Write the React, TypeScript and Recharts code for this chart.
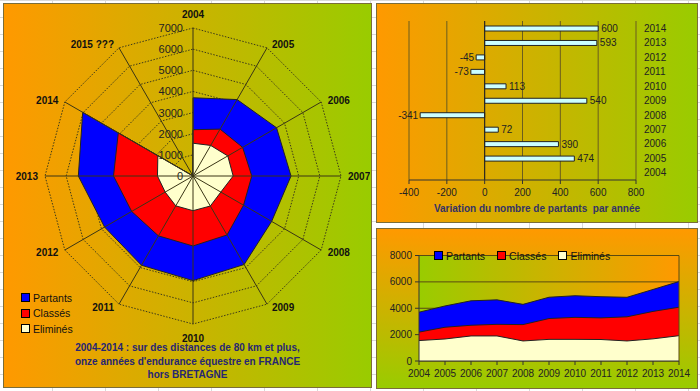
import {
  RadarChart, Radar, PolarGrid, PolarAngleAxis, PolarRadiusAxis, Legend,
  BarChart, Bar, XAxis, YAxis, CartesianGrid, ReferenceLine, LabelList,
  AreaChart, Area,
} from 'recharts'

const years = ['2004', '2005', '2006', '2007', '2008', '2009', '2010', '2011', '2012', '2013', '2014']
const radarYears = [...years, '2015 ???']
const seriesNames = ['Partants', 'Classés', 'Eliminés']
const partants = [3700, 4174, 4564, 4636, 4295, 4835, 4948, 4875, 4830, 5423, 6023]
const classes = [2190, 2560, 2710, 2780, 2760, 3220, 3310, 3270, 3350, 3760, 4080]
const elimines = [1550, 1670, 1900, 1900, 1520, 1640, 1640, 1630, 1520, 1680, 1920]
const variation = [null, 474, 390, 72, -341, 540, 113, -73, -45, 593, 600]
const variationTicks = [-400, -200, 0, 200, 400, 600, 800]
const areaTicks = [0, 2000, 4000, 6000, 8000]

const FONT = '"Liberation Sans", Arial, sans-serif'
const ORANGE = '#ff9900'
const GREEN = '#99cc00'
const BLUE = '#0000ff'
const RED = '#ff0000'
const CREAM = '#ffffcc'

const radarData = radarYears.map((year, i) => ({
  year,
  partants: partants[i] ?? 0,
  classes: classes[i] ?? 0,
  elimines: elimines[i] ?? 0,
}))
const yearData = years.map((year, i) => ({
  year,
  partants: partants[i],
  classes: classes[i],
  elimines: elimines[i],
  variation: variation[i],
}))

// radar geometry (page coordinates)
const CX = 193
const CY = 176
const R = 148

function AngleTick(props: any) {
  const { x, y, payload } = props
  const dx = x - CX
  const dy = y - CY
  const len = Math.hypot(dx, dy) || 1
  const ux = dx / len
  const uy = dy / len
  let px = CX + ux * (R + 4)
  let py = CY + uy * (R + 4)
  let anchor: 'start' | 'end' | 'middle' = 'middle'
  if (ux > 0.2) { anchor = 'start'; px += 3 }
  else if (ux < -0.2) { anchor = 'end'; px -= 3 }
  else py += uy * 10
  return (
    <text x={px} y={py} textAnchor={anchor} dominantBaseline="central"
      fontFamily={FONT} fontSize={10} fontWeight="bold" fill="#111">
      {payload.value}
    </text>
  )
}

function RadiusTick(props: any) {
  const { x, y, payload } = props
  return (
    <text x={x - 10} y={y} textAnchor="end" dominantBaseline="central"
      fontFamily={FONT} fontSize={11} fill="#222">
      {payload.value}
    </text>
  )
}

function SwatchLegend(props: any) {
  const { payload = [], vertical } = props
  const items = [...payload].sort((a: any, b: any) => seriesNames.indexOf(a.value) - seriesNames.indexOf(b.value))
  return (
    <div style={{ display: 'flex', flexDirection: vertical ? 'column' : 'row', gap: vertical ? 2 : 12, fontFamily: FONT, fontSize: 10.5, color: '#111' }}>
      {items.map((entry: any) => (
        <div key={entry.value} style={{ display: 'flex', alignItems: 'center', height: 13.5 }}>
          <span style={{ width: 7, height: 7, border: '1px solid #000', background: entry.payload?.fill ?? entry.color, marginRight: 3 }} />
          {entry.value}
        </div>
      ))}
    </div>
  )
}

function BarValue(props: any) {
  const { x, y, width, height, value } = props
  if (value == null) return null
  const left = Math.min(x, x + width)
  const right = Math.max(x, x + width)
  const neg = value < 0
  return (
    <text x={neg ? left - 2 : right + 3} y={y + height / 2} textAnchor={neg ? 'end' : 'start'}
      dominantBaseline="central" fontFamily={FONT} fontSize={10} fill="#222">
      {value}
    </text>
  )
}

export default function App() {
  return (
    <div style={{
      position: 'absolute', left: 0, top: 0, width: 700, height: 391, overflow: 'hidden', fontFamily: FONT,
      background: 'repeating-linear-gradient(90deg, transparent 0 52px, #d9d9d9 52px 53px), repeating-linear-gradient(0deg, #fff 0 16px, #d9d9d9 16px 17px)',
    }}>
      {/* panels */}
      <div style={{ position: 'absolute', left: 3, top: 3, width: 369, height: 385, boxSizing: 'border-box', border: '1px solid #7a6d3a', background: `linear-gradient(90deg, ${ORANGE}, ${GREEN})` }} />
      <div style={{ position: 'absolute', left: 376, top: 3, width: 322, height: 220, boxSizing: 'border-box', border: '1px solid #7a6d3a', background: `linear-gradient(90deg, ${ORANGE}, ${GREEN})` }} />
      <div style={{ position: 'absolute', left: 376, top: 228, width: 322, height: 161, boxSizing: 'border-box', border: '1px solid #7a6d3a', background: `linear-gradient(180deg, ${ORANGE}, ${GREEN})` }} />

      {/* radar */}
      <div style={{ position: 'absolute', left: 0, top: 0 }}>
        <RadarChart width={370} height={391} data={radarData} cx={CX} cy={CY} outerRadius={R} margin={{ top: 0, right: 0, bottom: 0, left: 0 }}>
          <PolarGrid gridType="polygon" radialLines={false} stroke="#3d3a1a" strokeDasharray="1.5 1.5" />
          <PolarAngleAxis dataKey="year" tick={AngleTick} tickLine={false} axisLine={false} />
          <PolarRadiusAxis angle={90} domain={[0, 7000]} tickCount={8} tick={RadiusTick} tickLine={false} axisLine={false} />
          <Radar name="Partants" dataKey="partants" fill={BLUE} fillOpacity={1} stroke="#222" strokeWidth={1} isAnimationActive={false} />
          <Radar name="Classés" dataKey="classes" fill={RED} fillOpacity={1} stroke="#222" strokeWidth={1} isAnimationActive={false} />
          <Radar name="Eliminés" dataKey="elimines" fill={CREAM} fillOpacity={1} stroke="#222" strokeWidth={1} isAnimationActive={false} />
          <Legend layout="vertical" align="left" verticalAlign="top"
            content={(p: any) => <SwatchLegend {...p} vertical />}
            wrapperStyle={{ left: 21, top: 291, width: 'auto' }} />
        </RadarChart>
      </div>
      {/* spokes over the fills */}
      <div style={{ position: 'absolute', left: 0, top: 0, pointerEvents: 'none' }}>
        <RadarChart width={370} height={391} data={radarData} cx={CX} cy={CY} outerRadius={R} margin={{ top: 0, right: 0, bottom: 0, left: 0 }}>
          <PolarGrid gridType="polygon" polarRadius={[0]} stroke="#3a3515" />
          <PolarAngleAxis dataKey="year" tick={false} tickLine={false} axisLine={false} />
        </RadarChart>
      </div>
      <div style={{ position: 'absolute', left: 3, top: 341, width: 369, textAlign: 'center', fontWeight: 'bold', fontSize: 10, lineHeight: '13.5px', color: '#262673' }}>
        2004-2014 : sur des distances de 80 km et plus,<br />
        onze années d'endurance équestre en FRANCE<br />
        hors BRETAGNE
      </div>

      {/* variation bar chart */}
      <div style={{ position: 'absolute', left: 376, top: 3 }}>
        <BarChart width={322} height={220} data={yearData} layout="vertical" margin={{ top: 18, right: 12, bottom: 23, left: 33 }}>
          <CartesianGrid horizontal={false} stroke="#6b5d1e" />
          <XAxis type="number" domain={[-400, 800]} ticks={variationTicks} interval={0}
            tick={{ fontFamily: FONT, fontSize: 10, fill: '#222' }} tickSize={4} tickMargin={5}
            height={20} axisLine={{ stroke: '#333' }} tickLine={{ stroke: '#333' }} />
          <XAxis xAxisId="top" type="number" orientation="top" domain={[-400, 800]} height={0}
            tick={false} tickLine={false} axisLine={{ stroke: '#9a9070' }} />
          <YAxis type="category" dataKey="year" orientation="right" reversed width={50}
            tick={{ fontFamily: FONT, fontSize: 10, fill: '#222' }} axisLine={false} tickLine={false} interval={0} />
          <ReferenceLine x={0} stroke="#222" />
          <Bar dataKey="variation" fill="#ccffff" stroke="#222" strokeWidth={1} barSize={5} isAnimationActive={false}>
            <LabelList dataKey="variation" content={BarValue} />
          </Bar>
        </BarChart>
      </div>
      <div style={{ position: 'absolute', left: 376, top: 203, width: 322, textAlign: 'center', fontWeight: 'bold', fontSize: 10, color: '#333366' }}>
        Variation du nombre de partants&nbsp; par année
      </div>

      {/* area chart */}
      <div style={{ position: 'absolute', left: 376, top: 228 }}>
        <AreaChart width={322} height={161} data={yearData} margin={{ top: 14, right: 19, bottom: 8, left: 3 }}>
          <defs>
            <linearGradient id="plotGrad" x1="0" y1="0" x2="1" y2="0">
              <stop offset="0%" stopColor={GREEN} />
              <stop offset="100%" stopColor={ORANGE} />
            </linearGradient>
          </defs>
          <CartesianGrid vertical={false} stroke="#5a4a10" fill="url(#plotGrad)" fillOpacity={1} />
          <XAxis dataKey="year" interval={0} tick={{ fontFamily: FONT, fontSize: 10, fill: '#222' }}
            tickSize={4} tickMargin={5} height={20} axisLine={{ stroke: '#333' }} tickLine={{ stroke: '#333' }} />
          <YAxis domain={[0, 8000]} ticks={areaTicks} interval={0} width={40}
            tick={{ fontFamily: FONT, fontSize: 10, fill: '#222' }} tickSize={4} tickMargin={3}
            axisLine={{ stroke: '#333' }} tickLine={{ stroke: '#333' }} />
          <Area type="linear" name="Partants" dataKey="partants" fill={BLUE} fillOpacity={1} stroke="#222" strokeWidth={1} dot={false} activeDot={false} isAnimationActive={false} />
          <Area type="linear" name="Classés" dataKey="classes" fill={RED} fillOpacity={1} stroke="#222" strokeWidth={1} dot={false} activeDot={false} isAnimationActive={false} />
          <Area type="linear" name="Eliminés" dataKey="elimines" fill={CREAM} fillOpacity={1} stroke="#222" strokeWidth={1} dot={false} activeDot={false} isAnimationActive={false} />
          <ReferenceLine x="2014" stroke="#5a4a10" />
          <Legend align="left" verticalAlign="top" content={(p: any) => <SwatchLegend {...p} />}
            wrapperStyle={{ left: 58, top: 21, width: 'auto' }} />
        </AreaChart>
      </div>
    </div>
  )
}
